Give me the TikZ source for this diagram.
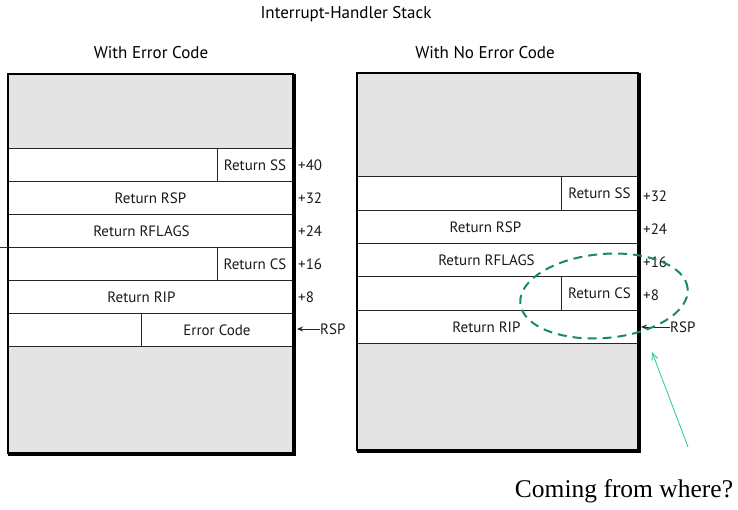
\documentclass[tikz,border=0pt]{standalone}
\usepackage{fontspec}
\setmainfont{PT Sans}
\newfontfamily\timesfont{Liberation Serif}
\usetikzlibrary{shapes.geometric,arrows.meta}
\definecolor{stackgray}{HTML}{E4E4E4}
\definecolor{ringgreen}{HTML}{148C6C}
\definecolor{pointgreen}{HTML}{22C8A2}
\begin{document}
\begin{tikzpicture}[x=1pt,y=-1pt,
  blk/.style={draw=black!85, line width=0.9pt, inner sep=0, anchor=north west},
  grayblk/.style={blk, fill=stackgray},
  cell/.style={blk, fill=white},
  txt/.style={inner sep=0, font=\fontsize{15}{17}\selectfont, text=black!90},
  off/.style={inner sep=0, anchor=west, font=\fontsize{15}{17}\selectfont, text=black!90},
  ttl/.style={inner sep=0, font=\fontsize{17}{20}\selectfont},
  frame/.style={draw=black, line width=1.6pt},
  shadow/.style={draw=black, line width=3pt},
  rsparrow/.style={-{Stealth[length=6pt,width=5pt]}, line width=0.9pt, black!85}
]
\useasboundingbox (0,0) rectangle (738,510);

% titles
\node[ttl] (title) at (346,14) {Interrupt-Handler Stack};
\node[ttl] (tl) at (151,53) {With Error Code};
\node[ttl] (tr) at (485,53) {With No Error Code};

% ---------- left stack ----------
\node[grayblk, minimum width=284, minimum height=74] (lg1) at (8,74) {};
\node[cell, minimum width=284, minimum height=33] (lr1) at (8,148) {};
\node[cell, minimum width=75, minimum height=33] (lss) at (217,148) {};
\node[cell, minimum width=284, minimum height=33] (lr2) at (8,181) {};
\node[cell, minimum width=284, minimum height=33] (lr3) at (8,214) {};
\node[cell, minimum width=284, minimum height=33] (lr4) at (8,247) {};
\node[cell, minimum width=75, minimum height=33] (lcs) at (217,247) {};
\node[cell, minimum width=284, minimum height=33] (lr5) at (8,280) {};
\node[cell, minimum width=284, minimum height=33] (lr6) at (8,313) {};
\node[cell, minimum width=151, minimum height=33] (lec) at (141,313) {};
\node[grayblk, minimum width=284, minimum height=106] (lg2) at (8,346) {};
\draw[frame] (lg1.north west) rectangle (lg2.south east);
\draw[shadow] ([xshift=1.5]lg1.north east) -- ([xshift=1.5,yshift=-1.5]lg2.south east) -- ([yshift=-1.5]lg2.south west);
\coordinate (tick) at (0,247);
\draw[black!80, line width=0.6pt] (tick) -- (lr4.north west);

\node[txt] at (lss.center) {Return SS};
\node[txt] at ([xshift=0]lr2.center) {Return RSP};
\node[txt] at ([xshift=-9]lr3.center) {Return RFLAGS};
\node[txt] at (lcs.center) {Return CS};
\node[txt] at ([xshift=-9]lr5.center) {Return RIP};
\node[txt] at (lec.center) {Error Code};

\node[off] (lo40) at (298,165) {+40};
\node[off] (lo32) at (298,198) {+32};
\node[off] (lo24) at (298,231) {+24};
\node[off] (lo16) at (298,264) {+16};
\node[off] (lo8) at (298,297) {+8};
\node[off] (lrsp) at (320,329) {RSP};
\coordinate (lrsptip) at (297,329);
\draw[rsparrow] (lrsp.west) -- (lrsptip);

% ---------- right stack ----------
\node[grayblk, minimum width=280, minimum height=103] (rg1) at (357,73) {};
\node[cell, minimum width=280, minimum height=34] (rr1) at (357,176) {};
\node[cell, minimum width=76, minimum height=34] (rss) at (561,176) {};
\node[cell, minimum width=280, minimum height=33] (rr2) at (357,210) {};
\node[cell, minimum width=280, minimum height=33] (rr3) at (357,243) {};
\node[cell, minimum width=280, minimum height=34] (rr4) at (357,276) {};
\node[cell, minimum width=76, minimum height=34] (rcs) at (561,276) {};
\node[cell, minimum width=280, minimum height=33] (rr5) at (357,310) {};
\node[grayblk, minimum width=280, minimum height=106] (rg2) at (357,343) {};
\draw[frame] (rg1.north west) rectangle (rg2.south east);
\draw[shadow] ([xshift=1.5]rg1.north east) -- ([xshift=1.5,yshift=-1.5]rg2.south east) -- ([yshift=-1.5]rg2.south west);

\node[txt] at (rss.center) {Return SS};
\node[txt] at ([xshift=-12]rr2.center) {Return RSP};
\node[txt] at ([xshift=-11]rr3.center) {Return RFLAGS};
\node[txt] at (rcs.center) {Return CS};
\node[txt] at ([xshift=-11]rr5.center) {Return RIP};

\node[off] (ro32) at (643,196) {+32};
\node[off] (ro24) at (643,229) {+24};
\node[off] (ro16) at (643,262) {+16};
\node[off] (ro8) at (643,295) {+8};
\node[off] (rrsp) at (670,327) {RSP};
\coordinate (rrsptip) at (641,327);
\draw[rsparrow] (rrsp.west) -- (rrsptip);

% ---------- annotation ----------
\node[draw=ringgreen, line width=2pt, dash pattern=on 9pt off 6pt, ellipse, minimum width=168, minimum height=84, rotate=5] (ring) at (604,296) {};
\node[inner sep=0, font=\timesfont\fontsize{25.5}{30}\selectfont] (q) at (624,491) {Coming from where?};
\coordinate (qtip) at (652,352);
\coordinate (qfoot) at (688,447);
\draw[pointgreen, line width=0.8pt, -{Straight Barb[length=7pt,width=6pt]}] (qfoot) -- (qtip);
\end{tikzpicture}
\end{document}
